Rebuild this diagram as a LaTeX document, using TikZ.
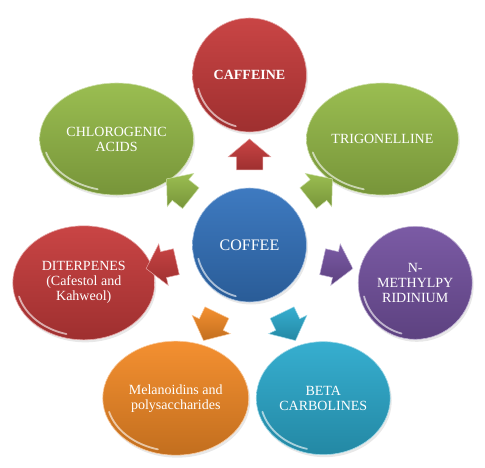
\documentclass[tikz,border=0pt]{standalone}
\usepackage{fontspec}
\setmainfont{Liberation Serif}
\newfontfamily\serifschrift{Liberation Serif}
\usetikzlibrary{shapes.geometric,shapes.arrows,shadows,calc}

\definecolor{rot}{HTML}{C63B3B}
\definecolor{gruen}{HTML}{95BA48}
\definecolor{blau}{HTML}{3473BD}
\definecolor{lila}{HTML}{7452A0}
\definecolor{tuerkis}{HTML}{2CAACD}
\definecolor{orange}{HTML}{F38A26}

\tikzset{
    kugel/.style={ellipse, inner sep=0pt, align=center, text=white,
        font=\serifschrift\fontsize{14}{15}\selectfont,
        top color=#1!95!white, bottom color=#1!80!black,
        draw=#1!45!white, line width=.6pt,
        drop shadow={opacity=.18, shadow xshift=1.5pt, shadow yshift=-2.5pt},
        path picture={
            \draw[white, opacity=.6, line width=1.8pt, line cap=round]
                let \p1=(path picture bounding box.north east),
                    \p2=(path picture bounding box.center),
                    \n1={\x1-\x2-4pt}, \n2={\y1-\y2-4pt} in
                (\p2) ++(195:\n1 and \n2)
                arc[start angle=195, end angle=255, x radius=\n1, y radius=\n2];
        }},
    pfeil/.style={single arrow, single arrow head extend=8pt,
        single arrow tip angle=100, minimum height=31pt,
        inner xsep=0pt, inner ysep=13pt, sloped, allow upside down,
        top color=#1!95!white, bottom color=#1!80!black,
        draw=#1!45!white, line width=.5pt}
}

\begin{document}
\begin{tikzpicture}[x=1pt, y=1pt]
    \useasboundingbox (0,0) rectangle (485,467);

    % Abstand Mitte -> aeussere Kugeln
    \def\r{170}

    % Mitte
    \node[kugel=blau, minimum width=114pt, minimum height=114pt,
        font=\serifschrift\fontsize{16}{18}\selectfont] (kaffee) at (249.5,222) {COFFEE};

    % Inhaltsstoffe rundherum, mit Pfeilen
    \foreach \name/\farbe/\breite/\hoehe/\txt [count=\k from 0] in {
            koffein/rot/114/114/{\textbf{CAFFEINE}},
            saeure/gruen/154/112/{CHLOROGENIC\\ACIDS},
            diterpene/rot/142/114/{DITERPENES\\(Cafestol and\\Kahweol)},
            melanoidine/orange/146/114/{Melanoidins and\\polysaccharides},
            beta/tuerkis/134/113/{BETA\\CARBOLINES},
            methyl/lila/114/113/{N-\\METHYLPY\\RIDINIUM},
            trigonellin/gruen/152/112/{TRIGONELLINE}} {
        \node[kugel=\farbe, minimum width=\breite pt, minimum height=\hoehe pt]
            (\name) at ([shift={(90+\k*360/7:\r)}]kaffee) {\txt};
        \path (kaffee.center) -- (\name.center) node[midway, pfeil=\farbe] (p\k) {};
    }
\end{tikzpicture}
\end{document}
